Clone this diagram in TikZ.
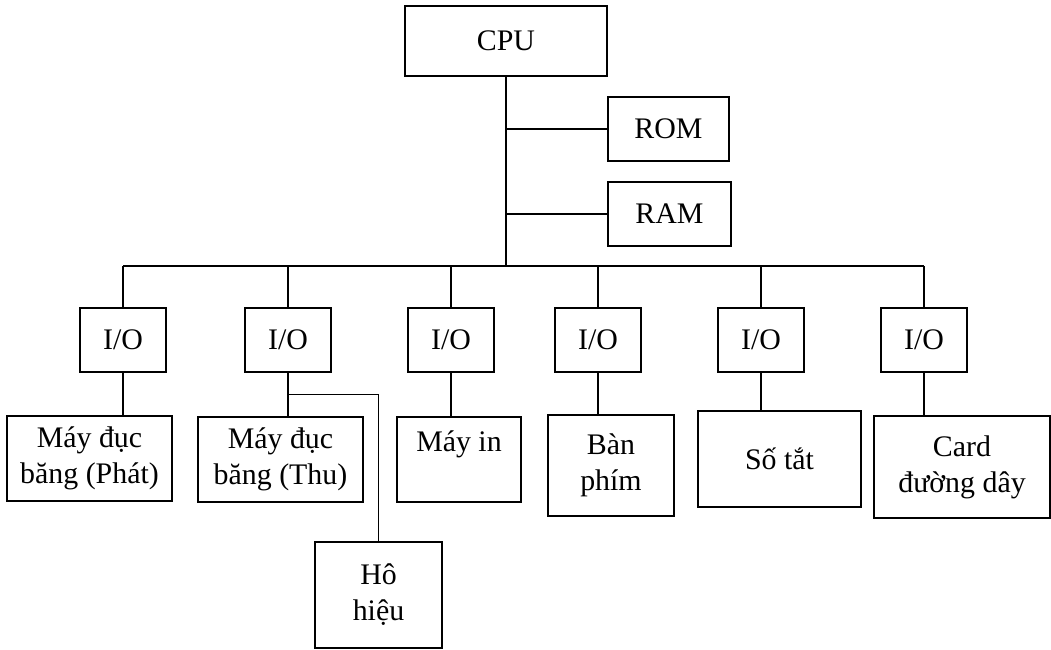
\documentclass[tikz,border=0pt]{standalone}
\usepackage{fontspec}
\setmainfont{Liberation Serif}
\usetikzlibrary{positioning,calc}

\begin{document}
\begin{tikzpicture}[x=0.02cm,y=-0.02cm,
  blk/.style={draw,line width=0.8pt,inner sep=2pt,align=center,
              font=\fontsize{17}{20.5}\selectfont},
  iobox/.style={blk,minimum width=1.72cm,minimum height=1.28cm},
  link/.style={line width=0.7pt},
]
\useasboundingbox (0,0) rectangle (1051,649);

% CPU va bo nho
\node[blk,minimum width=4.04cm,minimum height=1.4cm] (cpu) at (506,41) {CPU};
\node[blk,minimum width=2.42cm,minimum height=1.28cm] (rom) at (668.5,129) {ROM};
\node[blk,minimum width=2.46cm,minimum height=1.28cm] (ram) at (669.5,214) {RAM};

% cac cong I/O
\node[iobox] (io1) at (123,340) {I/O};
\node[iobox] (io2) at (288,340) {I/O};
\node[iobox] (io3) at (451,340) {I/O};
\node[iobox] (io4) at (598,340) {I/O};
\node[iobox] (io5) at (761,340) {I/O};
\node[iobox] (io6) at (924,340) {I/O};

% thiet bi ngoai vi
\node[blk,minimum width=3.3cm,minimum height=1.7cm] (phat) at (89.5,458.5)
  {Máy đục\\băng (Phát)};
\node[blk,minimum width=3.3cm,minimum height=1.7cm] (thu) at (280.5,459.5)
  {Máy đục\\băng (Thu)};
\node[blk,minimum width=2.48cm,minimum height=1.7cm] (mayin) at (459,459.5)
  {Máy in\\{}};
\node[blk,minimum width=2.52cm,minimum height=2.02cm] (banphim) at (611,465.5)
  {Bàn\\phím};
\node[blk,minimum width=3.26cm,minimum height=1.92cm] (sotat) at (779.5,459)
  {Số tắt};
\node[blk,minimum width=3.52cm,minimum height=2.04cm] (card) at (962,467)
  {Card\\đường dây};
\node[blk,minimum width=2.54cm,minimum height=2.12cm] (hohieu) at (378.5,595)
  {Hô\\hiệu};

% bus
\coordinate (busL) at (io1.north |- 0,266);
\coordinate (busR) at (io6.north |- 0,266);
\draw[link] (cpu.south) -- (cpu.south |- busL);
\draw[link] (busL) -- (busR);
\draw[link] (cpu.south |- rom.west) -- (rom.west);
\draw[link] (cpu.south |- ram.west) -- (ram.west);
\foreach \i in {1,...,6}
  \draw[link] (io\i.north) -- (io\i.north |- busL);

% I/O -> thiet bi
\draw[link] (io1.south) -- (io1.south |- phat.north);
\draw[link] (io2.south) -- (io2.south |- thu.north);
\draw[link,line width=1pt] ($(io2.south)!0.5!(io2.south |- thu.north)$) -| (hohieu.north);
\draw[link] (io3.south) -- (io3.south |- mayin.north);
\draw[link] (io4.south) -- (io4.south |- banphim.north);
\draw[link] (io5.south) -- (io5.south |- sotat.north);
\draw[link] (io6.south) -- (io6.south |- card.north);
\end{tikzpicture}
\end{document}
